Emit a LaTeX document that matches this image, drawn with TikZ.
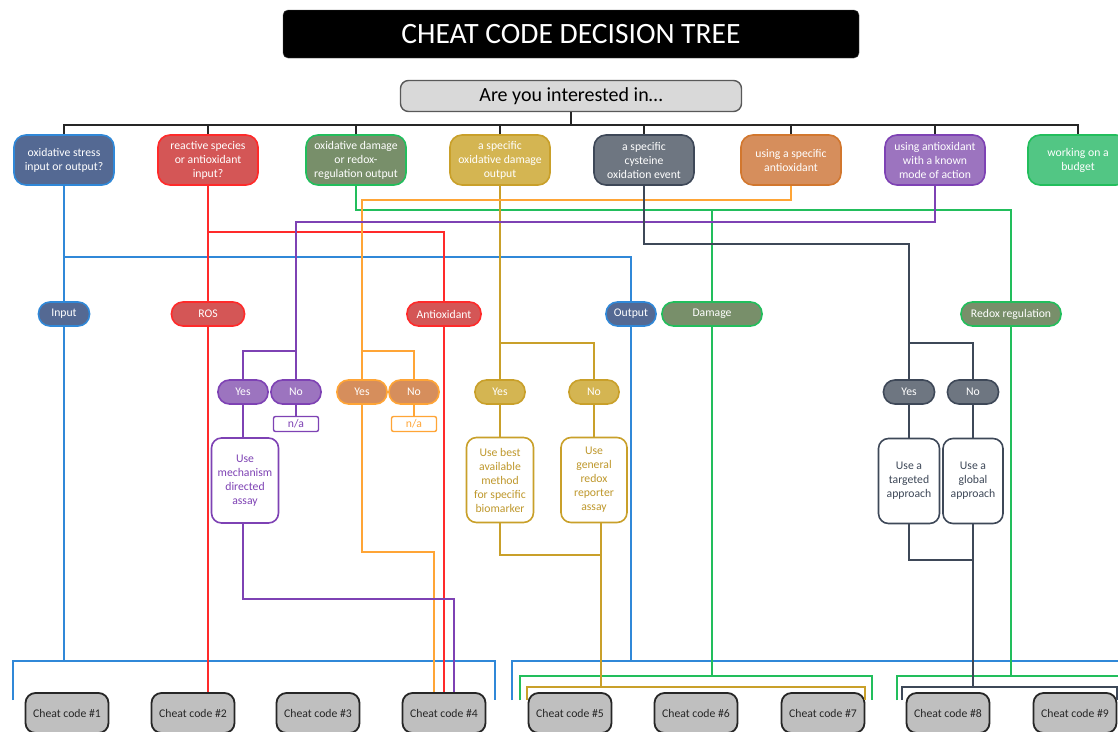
\documentclass[tikz,border=0pt]{standalone}
\usepackage{fontspec}
\setmainfont{Carlito}
\definecolor{cBlueF}{HTML}{546993}
\definecolor{cBlueL}{HTML}{3088D8}
\definecolor{cRedF}{HTML}{D45656}
\definecolor{cRedL}{HTML}{FF2A2A}
\definecolor{cGrnF}{HTML}{788F6A}
\definecolor{cGrnL}{HTML}{22BE5C}
\definecolor{cGoldF}{HTML}{D4B552}
\definecolor{cGoldL}{HTML}{C9A02A}
\definecolor{cGoldT}{HTML}{BF982C}
\definecolor{cGrayF}{HTML}{6E7681}
\definecolor{cGrayL}{HTML}{3E4858}
\definecolor{cOrF}{HTML}{D68E5C}
\definecolor{cOrB}{HTML}{D2772E}
\definecolor{cOrL}{HTML}{FFA536}
\definecolor{cPuF}{HTML}{9C74BF}
\definecolor{cPuL}{HTML}{7E42B4}
\definecolor{cBudF}{HTML}{52C684}
\definecolor{cCheatF}{HTML}{BFBFBF}
\definecolor{cAreF}{HTML}{D9D9D9}
\tikzset{
  txt/.style={font=\fontsize{11.7}{14}\selectfont},
  base/.style={draw, line width=1.6pt, align=center, inner sep=0pt, txt},
  qbox/.style={base, minimum width=100pt, minimum height=50pt, rounded corners=12pt, text=white},
  pill/.style={base, minimum height=24pt, rounded corners=11.5pt, text=white},
  yn/.style={pill, minimum width=50pt},
  nabox/.style={base, minimum width=45pt, minimum height=15pt, rounded corners=2pt, fill=white, line width=1.4pt},
  outbox/.style={base, minimum height=85pt, rounded corners=10pt, fill=white},
  cheat/.style={base, minimum width=83pt, minimum height=40pt, rounded corners=10pt, fill=cCheatF, draw=black!85, line width=1.8pt, text=black!85},
  conn/.style={line width=2pt},
  busline/.style={line width=1.6pt, draw=black!85},
}
\begin{document}
\begin{tikzpicture}[x=1pt, y=-1pt]
\useasboundingbox (0,0) rectangle (1118,731);
\fill[white] (0,0) rectangle (1118,731);

% title and root
\node[fill=black, draw=black!70, rounded corners=5pt, minimum width=576pt, minimum height=48pt, inner sep=0pt,
      text=white, font=\fontsize{29.5}{32}\selectfont] (title) at (571,34) {CHEAT CODE DECISION TREE};
\node[base, fill=cAreF, draw=black!65, line width=1.4pt, rounded corners=8pt, minimum width=341pt, minimum height=31pt,
      font=\fontsize{20}{22}\selectfont] (are) at (571,96) {Are you interested in\dots};

% top row
\node[qbox, fill=cBlueF, draw=cBlueL] (q1) at (64,160) {oxidative stress\\input or output?};
\node[qbox, fill=cRedF, draw=cRedL] (q2) at (208,160) {reactive species\\or antioxidant\\input?};
\node[qbox, fill=cGrnF, draw=cGrnL] (q3) at (356,160) {oxidative damage\\or redox-\\regulation output};
\node[qbox, fill=cGoldF, draw=cGoldL] (q4) at (500,160) {a specific\\oxidative damage\\output};
\node[qbox, fill=cGrayF, draw=cGrayL] (q5) at (644,160) {a specific\\cysteine\\oxidation event};
\node[qbox, fill=cOrF, draw=cOrB] (q6) at (791,160) {using a specific\\antioxidant};
\node[qbox, fill=cPuF, draw=cPuL] (q7) at (935,160) {using antioxidant\\with a known\\mode of action};
\node[qbox, fill=cBudF, draw=cGrnL] (q8) at (1078,160) {working on a\\budget};

% category pills
\node[pill, fill=cBlueF, draw=cBlueL, minimum width=51pt] (input) at (64,314) {Input};
\node[pill, fill=cRedF, draw=cRedL, minimum width=73pt] (ros) at (208,314) {ROS};
\node[pill, fill=cRedF, draw=cRedL, minimum width=74pt] (antiox) at (444,314) {Antioxidant};
\node[pill, fill=cBlueF, draw=cBlueL, minimum width=50pt] (output) at (631,314) {Output};
\node[pill, fill=cGrnF, draw=cGrnL, minimum width=100pt] (damage) at (712,314) {Damage};
\node[pill, fill=cGrnF, draw=cGrnL, minimum width=100pt] (redox) at (1011,314) {Redox regulation};

% yes / no pills
\node[yn, fill=cPuF, draw=cPuL] (yes1) at (243,392) {Yes};
\node[yn, fill=cPuF, draw=cPuL] (no1) at (296,392) {No};
\node[yn, fill=cOrF, draw=cOrL] (yes2) at (362,392) {Yes};
\node[yn, fill=cOrF, draw=cOrL] (no2) at (414,392) {No};
\node[yn, fill=cGoldF, draw=cGoldL] (yes3) at (500,392) {Yes};
\node[yn, fill=cGoldF, draw=cGoldL] (no3) at (594,392) {No};
\node[yn, fill=cGrayF, draw=cGrayL, minimum width=51pt] (yes4) at (909,392) {Yes};
\node[yn, fill=cGrayF, draw=cGrayL, minimum width=51pt] (no4) at (973,392) {No};

% n/a boxes
\node[nabox, draw=cPuL, text=cPuL] (na1) at (296,424) {n/a};
\node[nabox, draw=cOrL, text=cOrL] (na2) at (414,424) {n/a};

% outcome boxes
\node[outbox, draw=cPuL, text=cPuL, minimum width=67pt] (mech) at (245,480.5) {Use\\mechanism\\directed\\assay};
\node[outbox, draw=cGoldL, text=cGoldT, minimum width=67pt] (best) at (500,480) {Use best\\available\\method\\for specific\\biomarker};
\node[outbox, draw=cGoldL, text=cGoldT, minimum width=66pt] (gen) at (594,480) {Use\\general\\redox\\reporter\\assay};
\node[outbox, draw=cGrayL, text=cGrayL, minimum width=61pt] (targ) at (909,481) {Use a\\targeted\\approach};
\node[outbox, draw=cGrayL, text=cGrayL, minimum width=60pt] (glob) at (973,481) {Use a\\global\\approach};

% cheat codes
\node[cheat] (cc1) at (67,713) {Cheat code \#1};
\node[cheat] (cc2) at (193,713) {Cheat code \#2};
\node[cheat] (cc3) at (318,713) {Cheat code \#3};
\node[cheat] (cc4) at (444,713) {Cheat code \#4};
\node[cheat] (cc5) at (570,713) {Cheat code \#5};
\node[cheat] (cc6) at (696,713) {Cheat code \#6};
\node[cheat] (cc7) at (823,713) {Cheat code \#7};
\node[cheat] (cc8) at (948,713) {Cheat code \#8};
\node[cheat] (cc9) at (1075,713) {Cheat code \#9};

% junction levels
\coordinate (ybus) at (0,125);
\coordinate (yOr) at (0,200);
\coordinate (yGr) at (0,210);
\coordinate (yPu) at (0,222);
\coordinate (yRd) at (0,232);
\coordinate (yCy) at (0,244);
\coordinate (yBl) at (0,257);
\coordinate (yMid) at (0,351);
\coordinate (yGo) at (0,343);
\coordinate (yOr3) at (0,552);
\coordinate (yGo3) at (0,555);
\coordinate (yCy3) at (0,560);
\coordinate (yPu3) at (0,599);
\coordinate (yBrB) at (0,661);
\coordinate (yBrG) at (0,676);
\coordinate (yBrGo) at (0,687);
\coordinate (cc4L) at ([xshift=-10pt]cc4.north);
\coordinate (cc4R) at ([xshift=10pt]cc4.north);
\coordinate (gout) at ([xshift=7pt]gen.south);
% bracket ends
\coordinate (bLa) at (13,700);
\coordinate (bLb) at (495,700);
\coordinate (bRa) at (512,700);
\coordinate (bRb) at (1130,700);
\coordinate (gMa) at (520,700);
\coordinate (gMb) at (872,700);
\coordinate (gRa) at (897,700);
\coordinate (gRb) at (1130,700);
\coordinate (goa) at (527,700);
\coordinate (gob) at (865,700);
\coordinate (da) at (902,700);
\coordinate (db) at (1117,700);

% black bus
\draw[busline] (are.south) -- (are.south |- ybus);
\draw[busline] (q1.north) -- (q1.north |- ybus) -- (q8.north |- ybus) -- (q8.north);
\foreach \n in {q2,q3,q4,q5,q6,q7} \draw[busline] (\n.north) -- (\n.north |- ybus);

% blue
\begin{scope}[conn, draw=cBlueL]
\draw (q1.south) -- (input.north);
\draw (q1.south |- yBl) -| (output.north);
\draw (input.south) -- (input.south |- yBrB);
\draw (bLa) -- (bLa |- yBrB) -- (bLb |- yBrB) -- (bLb);
\draw (output.south) -- (output.south |- yBrB);
\draw (bRa) -- (bRa |- yBrB) -- (bRb |- yBrB);
\end{scope}

% red
\begin{scope}[conn, draw=cRedL]
\draw (q2.south) -- (ros.north);
\draw (q2.south |- yRd) -| (antiox.north);
\draw (ros.south) -- (ros.south |- cc2.north);
\draw (antiox.south) -- (antiox.south |- cc4.north);
\end{scope}

% green
\begin{scope}[conn, draw=cGrnL]
\draw (q3.south) -- (q3.south |- yGr) -| (redox.north);
\draw (damage.north) -- (damage.north |- yGr);
\draw (damage.south) -- (damage.south |- yBrG);
\draw (gMa) -- (gMa |- yBrG) -- (gMb |- yBrG) -- (gMb);
\draw (redox.south) -- (redox.south |- yBrG);
\draw (gRa) -- (gRa |- yBrG) -- (gRb |- yBrG);
\end{scope}

% gold
\begin{scope}[conn, draw=cGoldL]
\draw (q4.south) -- (yes3.north);
\draw (q4.south |- yGo) -| (no3.north);
\draw (yes3.south) -- (yes3.south |- best.north);
\draw (no3.south) -- (no3.south |- gen.north);
\draw (best.south) -- (best.south |- yGo3) -- (gout |- yGo3);
\draw (gout) -- (gout |- yBrGo);
\draw (goa) -- (goa |- yBrGo) -- (gob |- yBrGo) -- (gob);
\end{scope}

% orange
\begin{scope}[conn, draw=cOrL]
\draw (q6.south) |- (yes2.north |- yOr) -- (yes2.north);
\draw (yes2.north |- yMid) -| (no2.north);
\draw (no2.south) -- (na2.north);
\draw (yes2.south) -- (yes2.south |- yOr3) -| (cc4L);
\end{scope}

% purple
\begin{scope}[conn, draw=cPuL]
\draw (q7.south) |- (no1.north |- yPu) -- (no1.north);
\draw (yes1.north) -- (yes1.north |- yMid) -- (no1.north |- yMid);
\draw (no1.south) -- (na1.north);
\draw (yes1.south) -- (yes1.south |- mech.north);
\draw (yes1.south |- mech.south) -- (yes1.south |- yPu3) -| (cc4R);
\end{scope}

% cysteine gray
\begin{scope}[conn, draw=cGrayL]
\draw (q5.south) -- (q5.south |- yCy) -| (yes4.north);
\draw (yes4.north |- yGo) -| (no4.north);
\draw (yes4.south) -- (yes4.south |- targ.north);
\draw (no4.south) -- (no4.south |- glob.north);
\draw (targ.south) |- (glob.south |- yCy3);
\draw (glob.south) -- (glob.south |- yBrGo);
\draw (da) -- (da |- yBrGo) -- (db |- yBrGo) -- (db);
\end{scope}
\end{tikzpicture}
\end{document}
